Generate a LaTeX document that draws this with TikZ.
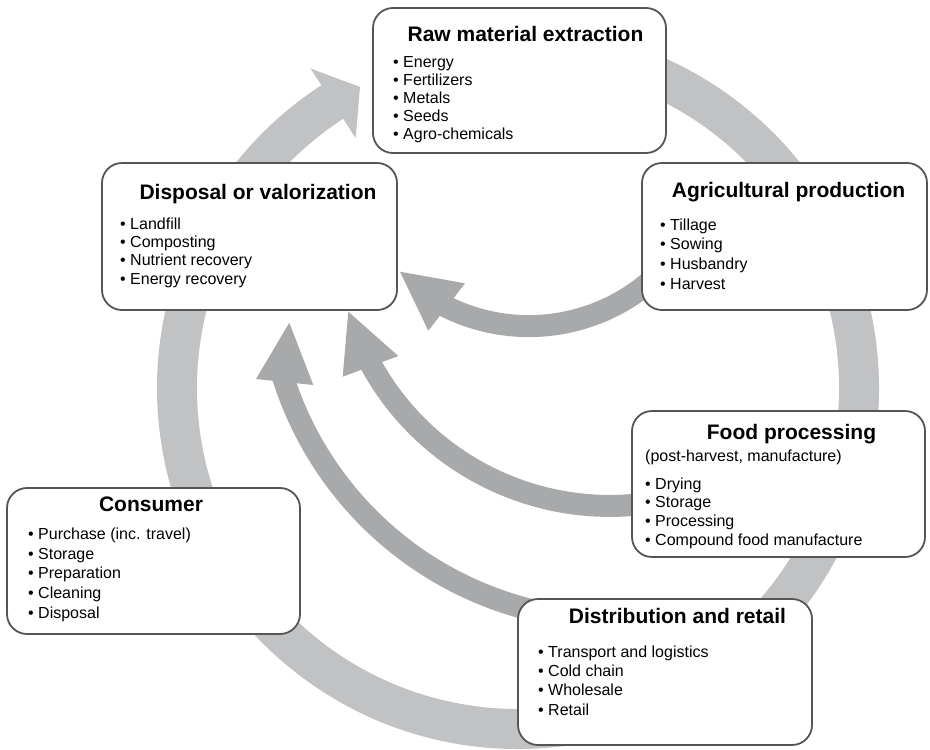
\documentclass[tikz,border=0pt]{standalone}
\usepackage{fontspec}
\setmainfont{Liberation Sans}
\usetikzlibrary{calc}

\definecolor{ringgray}{HTML}{C1C2C4}
\definecolor{flowgray}{HTML}{A8A9AB}
\definecolor{edgegray}{HTML}{555555}

\tikzset{
  stage/.style={draw=edgegray, line width=1.8pt, rounded corners=20pt, fill=white,
                inner sep=0pt, minimum width=#1},
  stagetitle/.style={font=\fontsize{21}{25}\selectfont\bfseries, anchor=base, inner sep=0pt},
  stageitem/.style={font=\fontsize{16}{19}\selectfont, anchor=base west, inner sep=0pt},
  flowshaft/.style={draw=flowgray, line width=22pt},
}

\begin{document}
\begin{tikzpicture}[x=1pt, y=-1pt]
\useasboundingbox (0,0) rectangle (930,750);

% ---- outer life-cycle ring with its arrowhead ----
\coordinate (ring) at (518,388);
\fill[ringgray]
  ($(ring)+(265:361)$) arc[start angle=265, end angle=597, radius=361]
  -- ($(ring)+(597:381)$) -- ($(ring)+(602.3:340)$) -- ($(ring)+(597:298)$)
  -- ($(ring)+(597:321)$) arc[start angle=597, end angle=265, radius=321] -- cycle;

% ---- return flows towards disposal ----
% from agricultural production
\coordinate (fa) at (528.9,139.6);
\draw[flowshaft] ($(fa)+(42:186.5)$) arc[start angle=42, end angle=119, radius=186.5];
\coordinate (fa-l) at (465,283.3);
\coordinate (fa-tip) at (400,271.7);
\coordinate (fa-r) at (428.3,330.7);
\fill[flowgray] (fa-l) -- (fa-tip) -- (fa-r) -- cycle;

% from food processing
\coordinate (fp) at (609.7,233.6);
\draw[flowshaft] ($(fp)+(80:272.3)$) arc[start angle=80, end angle=153, radius=272.3];
\coordinate (fp-l) at (398.3,356);
\coordinate (fp-tip) at (348.3,311.7);
\coordinate (fp-r) at (342.7,376.7);
\fill[flowgray] (fp-l) -- (fp-tip) -- (fp-r) -- cycle;

% from distribution and retail
\coordinate (fd) at (614.5,272.5);
\draw[flowshaft] ($(fd)+(100:347.6)$) arc[start angle=100, end angle=163.3, radius=347.6];
\coordinate (fd-l) at (313.3,385);
\coordinate (fd-tip) at (289.3,322.7);
\coordinate (fd-r) at (256,379);
\fill[flowgray] (fd-l) -- (fd-tip) -- (fd-r) -- cycle;

% ---- stage boxes ----
\node[stage=293pt, minimum height=145pt] (raw)  at (519.5,80.5) {};
\node[stage=295pt, minimum height=147pt] (disp) at (249.5,236.5) {};
\node[stage=285pt, minimum height=147pt] (agri) at (784.5,236.5) {};
\node[stage=293pt, minimum height=146pt] (food) at (778.5,484) {};
\node[stage=294pt, minimum height=146pt] (dist) at (665,672) {};
\node[stage=293pt, minimum height=146pt] (cons) at (153.5,561) {};

% ---- titles ----
\node[stagetitle] (raw-t)  at (525.5,41.7)  {Raw material extraction};
\node[stagetitle] (disp-t) at (258,199.3)   {Disposal or valorization};
\node[stagetitle] (agri-t) at (788.5,197.3) {Agricultural production};
\node[stagetitle] (food-t) at (791.5,439)   {Food processing};
\node[stagetitle] (dist-t) at (677.5,623.3) {Distribution and retail};
\node[stagetitle] (cons-t) at (151,511)     {Consumer};

\node[stageitem] (food-s) at (645,461) {(post-harvest, manufacture)};

% ---- bullet lists ----
\foreach \t [count=\i] in {Energy, Fertilizers, Metals, Seeds, Agro-chemicals}
  \node[stageitem] (raw-\i) at (393,{67.3+18*(\i-1)}) {• \t};
\foreach \t [count=\i] in {Landfill, Composting, Nutrient recovery, Energy recovery}
  \node[stageitem] (disp-\i) at (120,{229.3+18.3*(\i-1)}) {• \t};
\foreach \t [count=\i] in {Tillage, Sowing, Husbandry, Harvest}
  \node[stageitem] (agri-\i) at (660,{230+19.8*(\i-1)}) {• \t};
\foreach \t [count=\i] in {Drying, Storage, Processing, Compound food manufacture}
  \node[stageitem] (food-\i) at (645,{489+18.7*(\i-1)}) {• \t};
\foreach \t [count=\i] in {Transport and logistics, Cold chain, Wholesale, Retail}
  \node[stageitem] (dist-\i) at (538,{657.7+19.1*(\i-1)}) {• \t};
\foreach \t [count=\i] in {Purchase (inc. travel), Storage, Preparation, Cleaning, Disposal}
  \node[stageitem] (cons-\i) at (28,{539.3+19.75*(\i-1)}) {• \t};
\end{tikzpicture}
\end{document}
